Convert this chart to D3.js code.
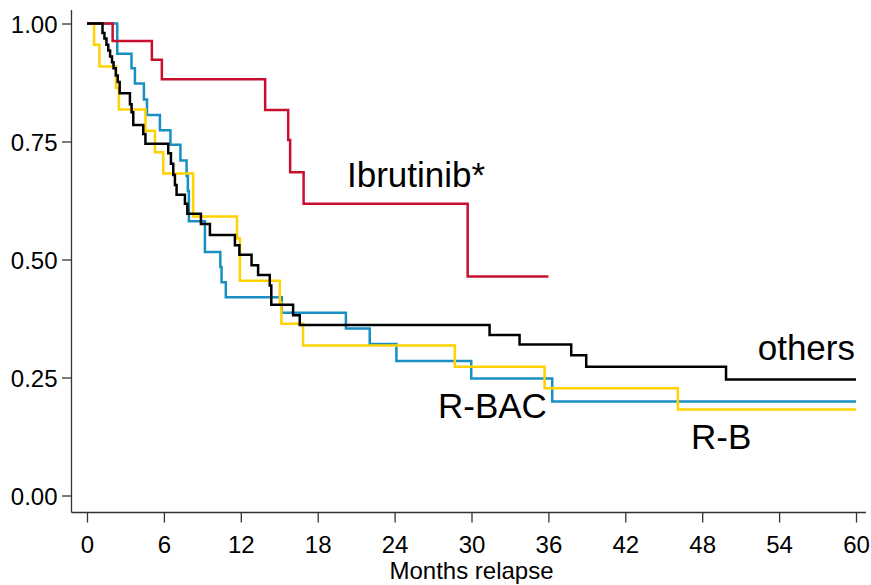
<!DOCTYPE html>
<html>
<head>
<meta charset="utf-8">
<title>Months relapse</title>
<script src="https://cdn.jsdelivr.net/npm/d3@7"></script>
<style>
  body { margin: 0; background: #fff; }
  text { font-family: "Liberation Sans", Arial, Helvetica, sans-serif; fill: #000; }
  .axis text { font-size: 24px; }
  .axis line { stroke: #333; stroke-width: 1.3px; }
  .curve { fill: none; stroke-width: 2.5px; }
  .lbl { font-size: 35px; }
</style>
</head>
<body>
<div id="chart"></div>
<script>
// Kaplan-Meier steps: time (months) and survival after the drop
var ibruTimes = [0, 2.0, 5.06, 5.84, 13.9, 15.7, 15.85, 16.9, 29.7];
var ibruSurv  = [1, 0.963, 0.923, 0.882, 0.817, 0.753, 0.685, 0.618, 0.464];
var ibruEnd = 36;

var rbacTimes = [0, 2.36, 3.47, 3.74, 4.44, 4.68, 5.69, 6.51, 7.29, 7.77, 7.87, 7.95, 9.2, 10.4, 10.5, 10.83, 15.2, 20.2, 22.06, 24.14, 29.98, 36.3];
var rbacSurv  = [1, 0.936, 0.905, 0.873, 0.839, 0.806, 0.774, 0.743, 0.710, 0.677, 0.645, 0.581, 0.516, 0.484, 0.452, 0.420, 0.387, 0.354, 0.321, 0.285, 0.248, 0.199];
var rbacEnd = 60;

var rbTimes = [0, 0.55, 0.97, 2.26, 2.49, 4.56, 5.3, 5.95, 8.28, 11.7, 11.93, 15.04, 15.17, 16.86, 28.7, 35.7, 46.1];
var rbSurv  = [1, 0.955, 0.909, 0.864, 0.818, 0.773, 0.727, 0.682, 0.591, 0.545, 0.455, 0.409, 0.364, 0.318, 0.273, 0.227, 0.182];
var rbEnd = 60;

var othersTimes = [0, 1.21, 1.36, 1.52, 1.66, 1.80, 1.95, 2.07, 2.25, 2.40, 2.55, 3.35, 3.48, 3.61, 4.39, 4.56,
  6.34, 6.55, 6.73, 6.86, 6.99, 7.64, 7.83, 8.89, 9.59, 11.54, 11.89, 12.84, 13.35, 14.26, 14.38, 16.08, 16.6,
  31.41, 33.75, 37.78, 38.95, 49.86];
var othersSurv  = [1, 0.980, 0.968, 0.955, 0.943, 0.930, 0.918, 0.905, 0.890, 0.876, 0.852, 0.829, 0.812, 0.785, 0.766, 0.745,
  0.725, 0.703, 0.679, 0.658, 0.637, 0.618, 0.597, 0.575, 0.552, 0.530, 0.510, 0.488, 0.467, 0.445, 0.404, 0.382, 0.361,
  0.340, 0.320, 0.297, 0.273, 0.246];
var othersEnd = 60;

var xTicks = [0, 6, 12, 18, 24, 30, 36, 42, 48, 54, 60];
var yTicks = [0, 0.25, 0.5, 0.75, 1];

var width = 871, height = 585;

var svg = d3.select("#chart").append("svg")
  .attr("width", width)
  .attr("height", height);

var x = d3.scaleLinear().domain([0, 60]).range([87, 856]);
var y = d3.scaleLinear().domain([0, 1]).range([495.5, 23.5]);

// axes
var xAxis = svg.append("g")
  .attr("class", "axis")
  .attr("transform", "translate(0,512.5)")
  .call(d3.axisBottom(x).tickValues(xTicks).tickFormat(d3.format("d")).tickSize(10).tickSizeOuter(0));
xAxis.select(".domain").remove();
xAxis.selectAll("text").attr("y", 40.5).attr("dy", null);
xAxis.append("line").attr("x1", 71.5).attr("x2", 866);

var yAxis = svg.append("g")
  .attr("class", "axis")
  .attr("transform", "translate(71.5,0)")
  .call(d3.axisLeft(y).tickValues(yTicks).tickFormat(d3.format(".2f")).tickSize(9.5).tickSizeOuter(0));
yAxis.select(".domain").remove();
yAxis.selectAll("text").attr("x", -14).attr("dy", "0.36em");
yAxis.append("line").attr("y1", 10).attr("y2", 512.5);

svg.append("text")
  .attr("class", "axis-title")
  .attr("x", (x(0) + x(60)) / 2)
  .attr("y", 579)
  .attr("text-anchor", "middle")
  .style("font-size", "24px")
  .text("Months relapse");

// curves
var line = d3.line()
  .x(function(d) { return x(d[0]); })
  .y(function(d) { return y(d[1]); })
  .curve(d3.curveStepAfter);

function steps(times, surv, end) {
  var pts = times.map(function(t, i) { return [t, surv[i]]; });
  pts.push([end, surv[surv.length - 1]]);
  return pts;
}

var series = [
  { pts: steps(rbacTimes, rbacSurv, rbacEnd), color: "#1a8fc4" },
  { pts: steps(rbTimes, rbSurv, rbEnd), color: "#ffd200" },
  { pts: steps(ibruTimes, ibruSurv, ibruEnd), color: "#c8102e" },
  { pts: steps(othersTimes, othersSurv, othersEnd), color: "#000000" }
];

svg.selectAll("path.curve")
  .data(series)
  .enter()
  .append("path")
  .attr("class", "curve")
  .attr("stroke", function(d) { return d.color; })
  .attr("d", function(d) { return line(d.pts); });

// labels
svg.append("text").attr("class", "lbl").attr("x", 347).attr("y", 187).text("Ibrutinib*");
svg.append("text").attr("class", "lbl").attr("x", 855).attr("y", 359.5).attr("text-anchor", "end").text("others");
svg.append("text").attr("class", "lbl").attr("x", 438).attr("y", 418).text("R-BAC");
svg.append("text").attr("class", "lbl").attr("x", 691).attr("y", 449).text("R-B");
</script>
</body>
</html>
